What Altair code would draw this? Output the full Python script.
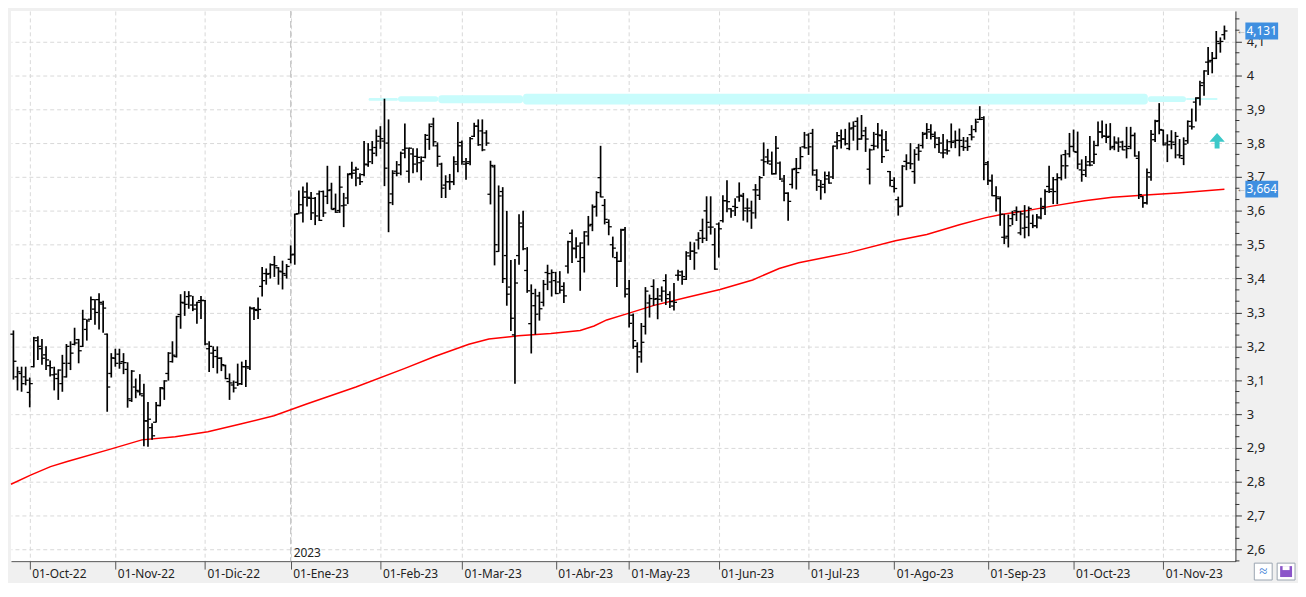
import json
import altair as alt
import pandas as pd

# ---------------- data ----------------
opens = [3.236,3.110,3.120,3.110,3.064,3.140,3.217,3.193,3.175,3.143,
 3.116,3.105,3.090,3.110,3.150,3.206,3.220,3.200,3.250,3.280,
 3.310,3.338,3.325,3.236,3.120,3.165,3.177,3.155,3.132,3.040,
 3.080,3.066,3.054,2.980,2.960,2.976,3.025,3.075,3.120,3.155,
 3.170,3.294,3.328,3.347,3.322,3.322,3.335,3.335,3.193,3.180,
 3.170,3.165,3.143,3.096,3.086,3.094,3.090,3.140,3.136,3.311,
 3.306,3.377,3.415,3.415,3.441,3.432,3.420,3.410,3.457,3.472,
 3.592,3.594,3.656,3.637,3.637,3.650,3.657,3.643,3.662,3.607,
 3.601,3.615,3.638,3.710,3.720,3.697,3.707,3.736,3.780,3.787,
 3.820,3.806,3.800,3.650,3.717,3.736,3.780,3.717,3.768,3.761,
 3.742,3.758,3.811,3.856,3.792,3.738,3.676,3.686,3.686,3.738,
 3.802,3.738,3.745,3.820,3.850,3.836,3.830,3.649,3.730,3.480,
 3.657,3.468,3.375,3.234,3.468,3.553,3.424,3.267,3.320,3.349,
 3.330,3.418,3.390,3.394,3.390,3.377,3.437,3.534,3.488,3.451,
 3.462,3.526,3.560,3.613,3.698,3.616,3.566,3.500,3.462,3.451,
 3.545,3.370,3.292,3.200,3.184,3.259,3.328,3.377,3.341,3.349,
 3.394,3.353,3.319,3.410,3.420,3.398,3.467,3.481,3.514,3.542,
 3.600,3.552,3.500,3.561,3.571,3.630,3.606,3.613,3.641,3.643,
 3.608,3.600,3.662,3.646,3.750,3.759,3.738,3.710,3.741,3.688,
 3.652,3.678,3.725,3.725,3.789,3.824,3.829,3.706,3.672,3.678,
 3.704,3.700,3.803,3.807,3.812,3.784,3.845,3.864,3.812,3.836,
 3.723,3.793,3.826,3.822,3.810,3.716,3.672,3.633,3.614,3.746,
 3.741,3.716,3.786,3.793,3.829,3.833,3.820,3.796,3.771,3.780,
 3.804,3.806,3.808,3.790,3.806,3.825,3.840,3.870,3.875,3.742,
 3.688,3.645,3.636,3.522,3.525,3.577,3.600,3.535,3.549,3.582,
 3.563,3.556,3.579,3.613,3.672,3.664,3.692,3.698,3.766,3.768,
 3.790,3.773,3.721,3.720,3.745,3.745,3.793,3.833,3.820,3.820,
 3.790,3.800,3.803,3.790,3.790,3.823,3.755,3.642,3.624,3.700,
 3.810,3.866,3.838,3.800,3.805,3.796,3.765,3.755,3.807,3.850,
 3.921,3.933,3.978,4.039,4.044,4.050,4.094,4.120]

highs = [3.247,3.140,3.140,3.140,3.108,3.228,3.230,3.222,3.200,3.158,
 3.140,3.132,3.175,3.207,3.215,3.255,3.222,3.308,3.280,3.347,
 3.340,3.357,3.335,3.238,3.180,3.193,3.193,3.180,3.153,3.130,
 3.105,3.118,3.090,3.036,2.973,3.036,3.080,3.100,3.183,3.215,
 3.290,3.354,3.363,3.363,3.349,3.332,3.349,3.337,3.215,3.200,
 3.200,3.168,3.146,3.120,3.099,3.149,3.155,3.160,3.318,3.316,
 3.344,3.434,3.430,3.445,3.467,3.434,3.453,3.443,3.498,3.592,
 3.660,3.672,3.684,3.656,3.641,3.660,3.660,3.733,3.683,3.651,
 3.733,3.653,3.711,3.745,3.730,3.711,3.806,3.800,3.806,3.840,
 3.850,3.931,3.870,3.720,3.747,3.775,3.858,3.787,3.785,3.785,
 3.761,3.827,3.858,3.875,3.802,3.742,3.705,3.709,3.761,3.862,
 3.808,3.756,3.818,3.860,3.870,3.870,3.838,3.748,3.736,3.675,
 3.670,3.600,3.455,3.458,3.590,3.600,3.493,3.383,3.370,3.361,
 3.396,3.441,3.427,3.420,3.422,3.389,3.512,3.545,3.522,3.507,
 3.540,3.585,3.619,3.658,3.792,3.635,3.575,3.524,3.479,3.547,
 3.552,3.396,3.297,3.212,3.269,3.375,3.353,3.398,3.372,3.377,
 3.413,3.363,3.387,3.426,3.424,3.481,3.509,3.507,3.537,3.577,
 3.643,3.643,3.549,3.566,3.646,3.690,3.608,3.637,3.684,3.653,
 3.637,3.630,3.679,3.703,3.802,3.783,3.775,3.821,3.746,3.706,
 3.655,3.725,3.756,3.789,3.833,3.829,3.842,3.723,3.691,3.716,
 3.716,3.793,3.833,3.840,3.842,3.861,3.864,3.876,3.883,3.848,
 3.784,3.833,3.859,3.840,3.836,3.718,3.699,3.642,3.735,3.767,
 3.800,3.782,3.798,3.833,3.859,3.856,3.834,3.818,3.827,3.811,
 3.858,3.837,3.843,3.818,3.818,3.853,3.872,3.909,3.879,3.747,
 3.707,3.673,3.643,3.591,3.589,3.600,3.613,3.600,3.617,3.613,
 3.589,3.591,3.639,3.664,3.733,3.700,3.711,3.766,3.780,3.830,
 3.840,3.834,3.752,3.762,3.821,3.807,3.864,3.867,3.857,3.859,
 3.820,3.817,3.807,3.848,3.848,3.831,3.776,3.644,3.725,3.839,
 3.869,3.918,3.840,3.826,3.838,3.833,3.812,3.817,3.867,3.902,
 3.935,3.984,4.015,4.084,4.069,4.131,4.112,4.147]

lows = [3.102,3.070,3.066,3.085,3.020,3.138,3.160,3.146,3.130,3.111,
 3.070,3.042,3.066,3.108,3.130,3.203,3.150,3.198,3.217,3.278,
 3.264,3.250,3.240,3.007,3.108,3.140,3.134,3.118,3.019,3.036,
 3.047,3.055,2.905,2.904,2.924,2.975,3.023,3.042,3.099,3.152,
 3.167,3.252,3.290,3.311,3.304,3.267,3.281,3.203,3.124,3.136,
 3.120,3.127,3.103,3.042,3.064,3.083,3.086,3.080,3.130,3.278,
 3.281,3.347,3.382,3.400,3.405,3.382,3.368,3.400,3.445,3.441,
 3.590,3.566,3.613,3.573,3.558,3.570,3.582,3.620,3.604,3.594,
 3.594,3.552,3.620,3.695,3.673,3.676,3.702,3.730,3.738,3.761,
 3.783,3.673,3.537,3.617,3.702,3.705,3.755,3.683,3.711,3.714,
 3.690,3.755,3.780,3.790,3.730,3.638,3.638,3.662,3.676,3.714,
 3.736,3.692,3.735,3.818,3.792,3.776,3.792,3.619,3.439,3.479,
 3.387,3.320,3.245,3.090,3.441,3.484,3.358,3.179,3.235,3.276,
 3.318,3.366,3.347,3.354,3.356,3.328,3.415,3.446,3.460,3.364,
 3.418,3.498,3.540,3.583,3.640,3.560,3.528,3.462,3.375,3.449,
 3.344,3.256,3.193,3.122,3.152,3.235,3.285,3.320,3.280,3.332,
 3.322,3.313,3.306,3.394,3.382,3.396,3.455,3.426,3.486,3.505,
 3.511,3.530,3.426,3.462,3.566,3.596,3.580,3.585,3.627,3.571,
 3.566,3.547,3.577,3.632,3.703,3.738,3.707,3.707,3.691,3.628,
 3.571,3.666,3.663,3.723,3.784,3.765,3.704,3.659,3.633,3.652,
 3.680,3.694,3.782,3.784,3.793,3.779,3.807,3.779,3.810,3.774,
 3.678,3.779,3.784,3.741,3.776,3.672,3.654,3.586,3.612,3.720,
 3.723,3.680,3.748,3.784,3.812,3.811,3.785,3.771,3.755,3.766,
 3.785,3.785,3.761,3.777,3.777,3.808,3.832,3.868,3.690,3.676,
 3.643,3.598,3.556,3.502,3.492,3.558,3.570,3.528,3.519,3.525,
 3.549,3.549,3.575,3.588,3.653,3.620,3.620,3.690,3.695,3.758,
 3.775,3.723,3.686,3.700,3.732,3.738,3.791,3.814,3.800,3.779,
 3.779,3.774,3.779,3.755,3.782,3.760,3.635,3.609,3.619,3.689,
 3.803,3.826,3.793,3.744,3.782,3.755,3.755,3.735,3.798,3.840,
 3.864,3.911,3.940,4.001,4.006,4.048,4.067,4.105]

closes = [3.156,3.125,3.090,3.100,3.090,3.225,3.200,3.165,3.160,3.137,
 3.118,3.130,3.150,3.200,3.180,3.210,3.187,3.280,3.275,3.338,
 3.300,3.330,3.313,3.080,3.166,3.150,3.150,3.152,3.045,3.127,
 3.070,3.060,2.980,2.985,2.936,3.026,3.078,3.098,3.180,3.174,
 3.288,3.330,3.324,3.349,3.310,3.330,3.336,3.207,3.200,3.188,
 3.165,3.146,3.105,3.092,3.077,3.089,3.140,3.140,3.313,3.309,
 3.309,3.394,3.413,3.441,3.438,3.422,3.415,3.436,3.470,3.590,
 3.618,3.640,3.640,3.594,3.585,3.572,3.594,3.660,3.604,3.596,
 3.670,3.617,3.707,3.711,3.723,3.686,3.738,3.745,3.770,3.806,
 3.813,3.726,3.624,3.711,3.711,3.770,3.785,3.785,3.738,3.758,
 3.747,3.823,3.849,3.804,3.761,3.667,3.686,3.686,3.745,3.792,
 3.745,3.740,3.813,3.850,3.795,3.780,3.800,3.734,3.500,3.644,
 3.400,3.354,3.283,3.387,3.564,3.488,3.364,3.356,3.295,3.311,
 3.383,3.415,3.418,3.356,3.366,3.349,3.509,3.490,3.496,3.505,
 3.538,3.556,3.611,3.654,3.641,3.575,3.553,3.490,3.451,3.543,
 3.354,3.268,3.217,3.169,3.212,3.363,3.341,3.339,3.339,3.363,
 3.341,3.332,3.330,3.410,3.406,3.476,3.481,3.476,3.519,3.519,
 3.566,3.552,3.428,3.547,3.630,3.627,3.600,3.610,3.646,3.600,
 3.608,3.594,3.662,3.698,3.745,3.747,3.709,3.785,3.694,3.652,
 3.628,3.722,3.713,3.760,3.786,3.789,3.720,3.691,3.670,3.694,
 3.682,3.791,3.822,3.812,3.798,3.842,3.850,3.812,3.822,3.812,
 3.780,3.791,3.824,3.760,3.779,3.690,3.666,3.612,3.732,3.741,
 3.739,3.767,3.776,3.826,3.840,3.826,3.815,3.800,3.771,3.777,
 3.802,3.808,3.808,3.787,3.790,3.818,3.862,3.870,3.737,3.690,
 3.645,3.641,3.590,3.520,3.556,3.589,3.598,3.591,3.551,3.607,
 3.556,3.582,3.607,3.657,3.657,3.657,3.698,3.733,3.733,3.790,
 3.775,3.738,3.707,3.735,3.735,3.767,3.833,3.821,3.817,3.786,
 3.803,3.789,3.780,3.784,3.822,3.762,3.648,3.623,3.713,3.826,
 3.864,3.840,3.795,3.795,3.803,3.820,3.763,3.797,3.864,3.848,
 3.933,3.970,4.013,4.040,4.050,4.100,4.100,4.131]

assert len(opens) == len(highs) == len(lows) == len(closes) == 298

# 200-session moving average (red line), read at sample points
ma_idx = [-0.6, 4.2, 9.1, 13.2, 23.6, 31.5, 39.7, 47.7, 55.7, 63.9, 71.9, 84, 96,
          103.3, 111.7, 116.6, 123.8, 131.8, 139, 142.4, 145.5, 150.4, 157.1, 165.3,
          173.3, 181.3, 187.8, 192.6, 204.7, 216.3, 224, 232, 238.5, 242.6, 248.2,
          254.7, 262.7, 269.5, 277.7, 285.6, 297]
ma_val = [2.793, 2.82, 2.845, 2.86, 2.896, 2.924, 2.933, 2.948, 2.971, 2.995, 3.03,
          3.08, 3.135, 3.17, 3.206, 3.222, 3.231, 3.238, 3.247, 3.26, 3.278, 3.296,
          3.321, 3.345, 3.368, 3.396, 3.43, 3.447, 3.476, 3.512, 3.53, 3.559, 3.58,
          3.59, 3.60, 3.614, 3.63, 3.64, 3.647, 3.653, 3.664]

# month ticks (session index of first session of each month) and their labels
month_idx = [4, 25, 47, 68, 90, 110, 133, 151, 173, 195, 216, 239, 260, 282]
month_lbl = ["01-Oct-22", "01-Nov-22", "01-Dic-22", "01-Ene-23", "01-Feb-23",
             "01-Mar-23", "01-Abr-23", "01-May-23", "01-Jun-23", "01-Jul-23",
             "01-Ago-23", "01-Sep-23", "01-Oct-23", "01-Nov-23"]

# cyan resistance band (hand drawn marker)
band_x1 = [87.1, 94.3, 104.2, 125.0, 278.2, 287.6]
band_x2 = [94.3, 104.2, 125.0, 278.2, 287.6, 295.3]
band_lo = [3.925, 3.922, 3.918, 3.914, 3.921, 3.927]
band_hi = [3.933, 3.938, 3.941, 3.946, 3.938, 3.933]

price_vals = [4.131, 3.664]
price_txt = ["4,131", "3,664"]

arrow_i = [295.2]
arrow_v = [3.807]

year_i = [68]
year_txt = ["2023"]

# ---------------- chart ----------------
W, H = 1233, 554
FONT = "Noto Sans"

xs = alt.Scale(domain=[-0.6, 299.7], nice=False, zero=False)
ys = alt.Scale(domain=[2.566, 4.19], nice=False, zero=False)

yticks = [round(2.6 + k * 0.1, 1) for k in range(16)]
minor_vals = [round(2.6 + k / 30.0, 4) for k in range(-1, 48) if k % 3 != 0]

label_expr_x = "%s[indexof(%s, datum.value)]" % (json.dumps(month_lbl), json.dumps(month_idx))

XA = alt.Axis(values=month_idx, labelExpr=label_expr_x, orient="bottom", grid=True,
              gridDash=[4, 3], gridColor="#d9d9d9", tickSize=8, tickColor="#555555",
              domainColor="#555555", labelAlign="left", labelOffset=2,
              labelBaseline="alphabetic", labelPadding=8, labelFont=FONT,
              labelFontSize=12, labelColor="#222222", title=None, labelFlush=False,
              labelOverlap=False, labelBound=False)
YA = alt.Axis(values=yticks, orient="right", grid=True, gridDash=[4, 3],
              gridColor="#d9d9d9", tickSize=6, tickColor="#333333",
              domainColor="#333333", labelPadding=5, labelFont=FONT,
              labelFontSize=13, labelColor="#222222", labelBaseline="middle",
              labelExpr="replace(format(datum.value, '.1~f'), '.', ',')",
              title=None, labelFlush=False, labelOverlap=False)


def X(field):
    return alt.X(field, scale=xs, axis=XA)


def Y(field):
    return alt.Y(field, scale=ys, axis=YA)


bars = pd.DataFrame({"i": list(range(len(opens))), "o": opens, "h": highs,
                     "l": lows, "c": closes})
base = alt.Chart(bars)

band = alt.Chart(pd.DataFrame({"x1": band_x1, "x2": band_x2, "lo": band_lo, "hi": band_hi})
                 ).mark_rect(color="#c8fcfc", cornerRadius=3).encode(
    x=X("x1:Q"), x2="x2:Q", y=Y("lo:Q"), y2="hi:Q")

ma = alt.Chart(pd.DataFrame({"i": ma_idx, "v": ma_val})).mark_line(
    color="#ff0000", strokeWidth=1.5).encode(x=X("i:Q"), y=Y("v:Q"))

yr = alt.Chart(pd.DataFrame({"i": year_i, "t": year_txt}))
yrule = yr.mark_rule(color="#c4c4c4", strokeDash=[7, 3], strokeWidth=1.2).encode(
    x=X("i:Q"))
ytext = yr.mark_text(align="left", baseline="bottom", dx=3, fontSize=12, font=FONT,
                     color="#222222").encode(
    x=X("i:Q"), y=alt.value(H - 1), text="t:N")

hl = base.mark_rule(color="black", strokeWidth=1.7).encode(
    x=X("i:Q"), y=Y("l:Q"), y2="h:Q")
ot = base.transform_calculate(xo="datum.i - 0.75").mark_rule(
    color="black", strokeWidth=1.3).encode(x=X("xo:Q"), x2="i:Q", y=Y("o:Q"))
ct = base.transform_calculate(xc="datum.i + 0.75").mark_rule(
    color="black", strokeWidth=1.3).encode(x=X("i:Q"), x2="xc:Q", y=Y("c:Q"))

arrow_shape = "M0,-1 L1,0.125 L0.32,0.125 L0.32,1 L-0.32,1 L-0.32,0.125 L-1,0.125 Z"
arr = alt.Chart(pd.DataFrame({"i": arrow_i, "v": arrow_v})).mark_point(
    shape=arrow_shape, filled=True, size=240, color="#3cc8c8", opacity=1).encode(
    x=X("i:Q"), y=Y("v:Q"))

pdf = alt.Chart(pd.DataFrame({"v": price_vals, "t": price_txt}))
box_shape = "M-1,-0.515 L1,-0.515 L1,0.515 L-1,0.515 Z"
pbox = pdf.mark_point(shape=box_shape, filled=True, size=1089, color="#3f8fe0",
                      opacity=1).encode(x=alt.value(W + 26.5), y=Y("v:Q"))
ptxt = pdf.mark_text(color="white", fontSize=12, font=FONT, align="center",
                     baseline="middle").encode(x=alt.value(W + 26.5), y=Y("v:Q"),
                                               text="t:N")
parr = pdf.mark_text(text="\u2190", color="#555555", fontSize=10, font=FONT,
                     align="left", baseline="middle").encode(
    x=alt.value(W + 1), y=Y("v:Q"))

minor = alt.Chart(pd.DataFrame({"t": minor_vals})).mark_rule(
    color="#333333", strokeWidth=1).encode(
    x=alt.value(W), x2=alt.value(W + 4), y=Y("t:Q"))

icons = alt.Chart(pd.DataFrame({"k": [0, 1]}))
icon1 = icons.transform_filter("datum.k == 0").mark_rect(
    fill="white", stroke="#9aa4b0", strokeWidth=1).encode(
    x=alt.value(W + 19), x2=alt.value(W + 37), y=alt.value(H + 2), y2=alt.value(H + 19))
icon1t = icons.transform_filter("datum.k == 0").mark_text(
    text="\u2248", color="#3a7bd5", fontSize=15, font=FONT, align="center",
    baseline="middle").encode(x=alt.value(W + 28), y=alt.value(H + 10))
icon2 = icons.transform_filter("datum.k == 1").mark_rect(
    fill="white", stroke="#9aa4b0", strokeWidth=1).encode(
    x=alt.value(W + 42), x2=alt.value(W + 60), y=alt.value(H + 2), y2=alt.value(H + 19))
icon2a = icons.transform_filter("datum.k == 1").mark_rect(
    fill="#8b55c9").encode(
    x=alt.value(W + 45), x2=alt.value(W + 57), y=alt.value(H + 5), y2=alt.value(H + 16))
icon2b = icons.transform_filter("datum.k == 1").mark_rect(
    fill="white").encode(
    x=alt.value(W + 47.5), x2=alt.value(W + 54.5), y=alt.value(H + 5), y2=alt.value(H + 9))
pad_r = icons.transform_filter("datum.k == 1").mark_rect(opacity=0).encode(
    x=alt.value(W + 62), x2=alt.value(W + 63), y=alt.value(H + 18), y2=alt.value(H + 19))

chart = alt.layer(band, yrule, ma, hl, ot, ct, arr, pbox, ptxt, parr, minor,
                  icon1, icon1t, icon2, icon2a, icon2b, pad_r, ytext).properties(
    width=W, height=H, padding=0, background="#f0f0f0"
).configure_view(fill="white", stroke=None)

chart.save("out.html", embed_options={"renderer": "svg", "actions": False})
